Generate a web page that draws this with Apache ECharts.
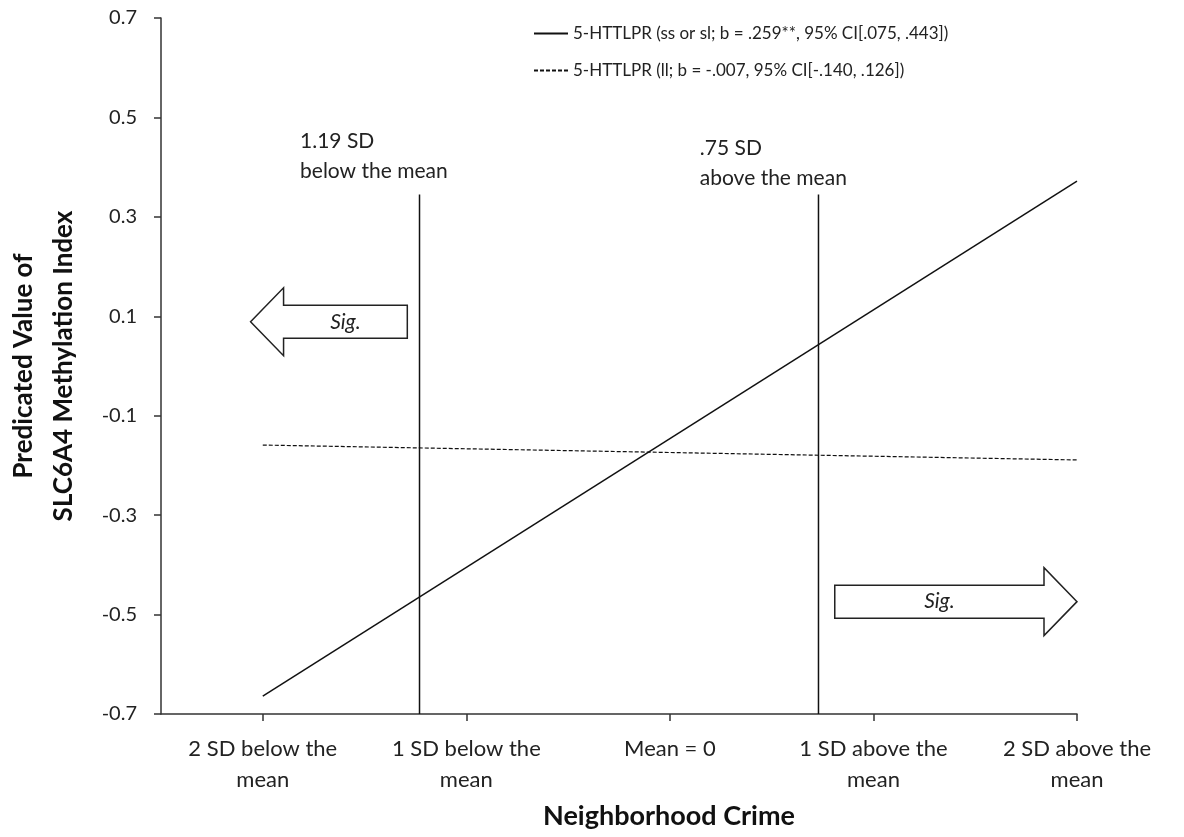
<!DOCTYPE html>
<html>
<head>
<meta charset="utf-8">
<script src="https://cdn.jsdelivr.net/npm/echarts@6/dist/echarts.min.js"></script>
<style>
html,body{margin:0;padding:0;background:#fff;}
#main{width:1184px;height:837px;}
</style>
</head>
<body>
<div id="main"></div>
<script>
// ---- data ----
var xTickValues = [-2, -1, 0, 1, 2];
var xTickLabels = ['2 SD below the\nmean', '1 SD below the\nmean', 'Mean = 0', '1 SD above the\nmean', '2 SD above the\nmean'];
var yTickValues = [-0.7, -0.5, -0.3, -0.1, 0.1, 0.3, 0.5, 0.7];
var yTickLabels = ['-0.7', '-0.5', '-0.3', '-0.1', '0.1', '0.3', '0.5', '0.7'];
var seriesNames = ['5-HTTLPR (ss or sl; b = .259**, 95% CI[.075, .443])', '5-HTTLPR (ll; b = -.007, 95% CI[-.140, .126])'];
var solidLine = [[-2, -0.664], [2, 0.372]];
var dashedLine = [[-2, -0.159], [2, -0.189]];
var regionLines = [[[-1.23, -0.7], [-1.23, 0.345]], [[0.73, -0.7], [0.73, 0.345]]];
var regionTexts = [[-1.817, 0.422, '1.19 SD\nbelow the mean'], [0.147, 0.407, '.75 SD\nabove the mean']];
// arrows: [tail x, tip x, center y, label]
var arrows = [[-1.29, -2.06, 0.089, 'Sig.'], [0.81, 2.0, -0.474, 'Sig.']];

var FONT = 'Lato';
var chart = echarts.init(document.getElementById('main'));

var option = {
  backgroundColor: '#ffffff',
  animation: false,
  grid: {left: 161, right: 107, top: 18, bottom: 123, containLabel: false, outerBoundsMode: 'none'},
  legend: {
    orient: 'vertical', left: 528, top: 20, itemWidth: 34, itemHeight: 10, itemGap: 20,
    itemStyle: {opacity: 0},
    textStyle: {fontFamily: FONT, fontSize: 17, color: '#222'},
    data: seriesNames
  },
  xAxis: {
    type: 'value', min: -2.5, max: 2,
    name: 'Neighborhood Crime', nameLocation: 'middle', nameGap: 89,
    nameTextStyle: {fontFamily: FONT, fontSize: 27, fontWeight: 'bold', color: '#111', padding: [0, 0, 0, 100]},
    axisLine: {show: true, onZero: false, lineStyle: {color: '#333', width: 1.5}},
    axisTick: {show: true, customValues: xTickValues, length: 7, lineStyle: {color: '#333', width: 1.5}},
    axisLabel: {
      customValues: xTickValues, margin: 19, lineHeight: 31,
      fontFamily: FONT, fontSize: 22, color: '#222',
      formatter: function (v) { var i = xTickValues.indexOf(v); return i >= 0 ? xTickLabels[i] : ''; }
    },
    splitLine: {show: false}
  },
  yAxis: {
    type: 'value', min: -0.7, max: 0.7,
    name: 'Predicated Value of\nSLC6A4 Methylation Index', nameLocation: 'middle', nameGap: 77, nameRotate: 90,
    nameTextStyle: {fontFamily: FONT, fontSize: 26, fontWeight: 'bold', color: '#111', lineHeight: 40},
    axisLine: {show: true, onZero: false, lineStyle: {color: '#333', width: 1.5}},
    axisTick: {show: true, customValues: yTickValues, length: 7, lineStyle: {color: '#333', width: 1.5}},
    axisLabel: {
      customValues: yTickValues, margin: 24,
      fontFamily: FONT, fontSize: 20, color: '#222',
      formatter: function (v) {
        for (var i = 0; i < yTickValues.length; i++) { if (Math.abs(yTickValues[i] - v) < 1e-9) return yTickLabels[i]; }
        return '';
      }
    },
    splitLine: {show: false}
  },
  series: [
    {name: seriesNames[0], type: 'line', data: solidLine, symbol: 'none', showSymbol: false,
     lineStyle: {color: '#111', width: 1.5, type: 'solid'}, itemStyle: {color: '#111'}},
    {name: seriesNames[1], type: 'line', data: dashedLine, symbol: 'none', showSymbol: false,
     lineStyle: {color: '#111', width: 1.2, type: [4, 2]}, itemStyle: {color: '#111'}},
    {name: 'vline1', type: 'line', data: regionLines[0], symbol: 'none', silent: true,
     lineStyle: {color: '#111', width: 1.5}},
    {name: 'vline2', type: 'line', data: regionLines[1], symbol: 'none', silent: true,
     lineStyle: {color: '#111', width: 1.5}},
    {
      name: 'notes', type: 'custom', silent: true,
      data: regionTexts.map(function (t) { return [t[0], t[1], t[2]]; }),
      renderItem: function (params, api) {
        var p = api.coord([api.value(0), api.value(1)]);
        return {type: 'text', x: p[0], y: p[1], style: {text: regionTexts[params.dataIndex][2],
          fontFamily: FONT, fontSize: 21, fill: '#222', lineHeight: 30, align: 'left', verticalAlign: 'middle'}};
      }
    },
    {
      name: 'arrows', type: 'custom', silent: true,
      data: arrows.map(function (a) { return [a[0], a[1], a[2], a[3]]; }),
      renderItem: function (params, api) {
        var tail = api.coord([api.value(0), api.value(2)]);
        var tip = api.coord([api.value(1), api.value(2)]);
        var dir = tip[0] > tail[0] ? 1 : -1;
        var shaftH = 16.5, headH = 34, headL = 33;
        var baseX = tip[0] - dir * headL;
        var cy = tail[1];
        var pts = [
          [tail[0], cy - shaftH], [baseX, cy - shaftH], [baseX, cy - headH], [tip[0], cy],
          [baseX, cy + headH], [baseX, cy + shaftH], [tail[0], cy + shaftH]
        ];
        var midX = (tail[0] + baseX) / 2;
        return {
          type: 'group',
          children: [
            {type: 'polygon', shape: {points: pts}, style: {fill: '#fff', stroke: '#222', lineWidth: 1.5}},
            {type: 'text', x: midX, y: cy, style: {text: arrows[params.dataIndex][3], x: 0, y: 0,
              fontFamily: FONT, fontSize: 21, fontStyle: 'italic', fill: '#222', align: 'center', verticalAlign: 'middle'}}
          ]
        };
      }
    }
  ]
};
chart.setOption(option);
</script>
</body>
</html>
